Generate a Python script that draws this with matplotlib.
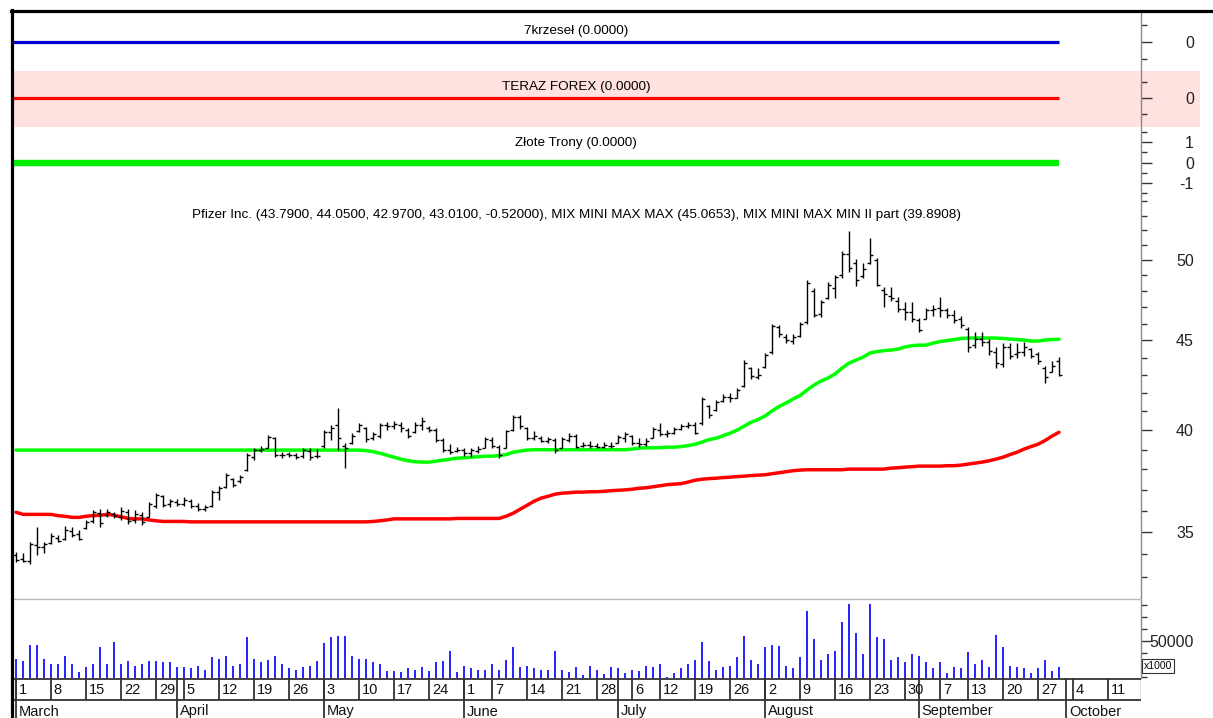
import numpy as np
import pandas as pd
import matplotlib
matplotlib.use("Agg")
import matplotlib.pyplot as plt
from matplotlib.patches import Rectangle
from matplotlib.lines import Line2D
from matplotlib import font_manager as fm

# ---------------- data ----------------
start_date = "2021-03-01"
end_axis_date = "2021-10-11"
holidays = ["2021-04-02", "2021-05-31", "2021-07-05", "2021-09-06"]

opens = [
33.95, 33.80, 33.70, 34.40, 34.30, 34.50, 34.75, 34.70, 35.05, 34.90,
35.20, 35.50, 35.90, 35.80, 35.85, 35.70, 35.95, 35.55, 35.80, 35.70,
36.20, 36.70, 36.30, 36.40, 36.30, 36.45, 36.20, 36.05, 36.20, 36.90,
37.15, 37.50, 37.40, 37.95, 38.60, 38.95, 39.10, 39.60, 38.70, 38.75,
38.70, 38.65, 38.90, 38.65, 39.20, 39.90, 40.30, 39.20, 39.35, 39.95,
40.10, 39.60, 39.70, 40.25, 40.20, 40.30, 40.00, 39.90, 40.30, 40.10,
40.00, 39.50, 39.00, 38.90, 38.95, 38.80, 38.90, 39.10, 39.50, 39.15,
39.10, 40.00, 40.70, 40.10, 39.60, 39.60, 39.45, 39.50, 39.10, 39.50,
39.70, 39.20, 39.25, 39.20, 39.15, 39.20, 39.35, 39.60, 39.70, 39.35,
39.30, 39.60, 40.00, 39.80, 39.85, 40.05, 40.20, 40.30, 40.40, 41.30,
41.05, 41.55, 41.80, 41.75, 42.40, 43.40, 42.90, 43.45, 44.30, 45.80,
45.20, 44.95, 45.25, 46.10, 48.00, 46.60, 47.60, 48.20, 49.00, 50.40,
49.80, 48.95, 49.80, 50.00, 48.10, 47.70, 47.40, 46.90, 46.70, 46.20,
46.30, 46.80, 46.95, 46.80, 46.50, 46.30, 45.70, 44.70, 45.10, 44.90,
44.30, 43.60, 44.60, 44.20, 44.30, 44.50, 44.20, 43.40, 43.20, 43.79]

highs = [
34.08, 34.04, 34.53, 35.22, 34.53, 34.94, 34.85, 35.26, 35.22, 35.08,
35.54, 36.01, 36.06, 36.06, 35.92, 36.16, 36.06, 36.01, 35.92, 36.40,
36.83, 36.73, 36.54, 36.54, 36.63, 36.54, 36.35, 36.25, 36.97, 37.17,
37.81, 37.56, 37.71, 38.81, 39.07, 39.17, 39.74, 39.64, 38.86, 38.86,
38.81, 39.07, 39.07, 39.02, 40.00, 40.26, 41.18, 39.33, 39.84, 40.37,
40.16, 39.90, 40.37, 40.42, 40.48, 40.42, 40.10, 40.42, 40.69, 40.21,
40.10, 39.58, 39.27, 39.12, 39.07, 39.07, 39.17, 39.64, 39.64, 39.22,
40.00, 40.80, 40.80, 40.16, 39.95, 39.69, 39.64, 39.58, 39.64, 39.84,
39.79, 39.38, 39.43, 39.33, 39.38, 39.38, 39.74, 39.90, 39.74, 39.58,
39.58, 40.16, 40.37, 40.00, 40.16, 40.32, 40.42, 40.42, 41.77, 41.34,
41.61, 41.94, 41.99, 42.27, 43.85, 43.45, 43.39, 44.26, 45.97, 45.91,
45.37, 45.37, 46.09, 48.71, 48.20, 47.44, 48.58, 49.03, 50.59, 51.94,
50.07, 49.80, 51.47, 50.13, 48.26, 48.26, 47.63, 47.32, 47.32, 46.33,
46.95, 47.13, 47.63, 46.95, 46.82, 46.46, 45.79, 45.49, 45.49, 45.08,
44.61, 44.84, 44.84, 44.84, 44.90, 44.55, 44.31, 43.51, 43.79, 44.05]

lows = [
33.64, 33.64, 33.55, 33.95, 34.04, 34.44, 34.53, 34.62, 34.76, 34.62,
35.13, 35.40, 35.22, 35.68, 35.64, 35.54, 35.36, 35.40, 35.31, 35.68,
36.11, 36.16, 36.16, 36.20, 36.20, 36.11, 35.97, 35.97, 36.16, 36.49,
37.07, 37.12, 37.32, 37.91, 38.46, 38.86, 39.07, 38.61, 38.56, 38.61,
38.51, 38.56, 38.46, 38.56, 39.07, 39.48, 38.97, 38.06, 39.27, 39.90,
39.38, 39.48, 39.58, 40.00, 40.05, 39.90, 39.58, 39.84, 40.00, 39.90,
39.38, 38.86, 38.76, 38.86, 38.66, 38.61, 38.81, 39.07, 39.07, 38.56,
39.07, 39.95, 40.05, 39.48, 39.48, 39.38, 39.33, 38.81, 39.07, 39.38,
39.07, 39.12, 39.07, 39.07, 39.07, 39.07, 39.33, 39.38, 39.22, 39.12,
39.17, 39.58, 39.69, 39.64, 39.79, 40.00, 40.10, 39.79, 40.26, 40.64,
41.02, 41.50, 41.50, 41.72, 42.33, 42.77, 42.77, 43.39, 44.20, 45.19,
44.84, 44.78, 45.19, 45.97, 46.39, 46.39, 47.51, 47.57, 48.84, 49.22,
48.33, 48.84, 49.74, 48.33, 47.01, 47.38, 46.70, 46.21, 46.09, 45.49,
46.27, 46.46, 46.39, 46.33, 46.03, 45.73, 44.31, 44.55, 44.66, 44.14,
43.39, 43.45, 43.91, 43.97, 44.08, 43.97, 43.62, 42.54, 43.17, 42.97]

closes = [
33.75, 33.70, 34.45, 34.30, 34.45, 34.80, 34.60, 35.10, 34.85, 34.70,
35.45, 35.95, 35.40, 35.95, 35.75, 36.00, 35.50, 35.85, 35.45, 36.30,
36.75, 36.25, 36.45, 36.30, 36.50, 36.20, 36.05, 36.15, 36.90, 37.10,
37.70, 37.25, 37.60, 38.70, 38.95, 39.05, 39.65, 38.70, 38.70, 38.70,
38.60, 38.95, 38.60, 38.65, 39.90, 40.10, 39.60, 39.10, 39.70, 40.25,
39.55, 39.80, 40.30, 40.20, 40.35, 40.10, 39.70, 40.30, 40.50, 40.00,
39.50, 38.95, 38.85, 38.95, 38.80, 38.95, 39.05, 39.55, 39.20, 38.70,
39.95, 40.70, 40.20, 39.60, 39.70, 39.45, 39.55, 39.00, 39.55, 39.70,
39.15, 39.25, 39.20, 39.15, 39.25, 39.16, 39.65, 39.80, 39.35, 39.30,
39.45, 40.05, 39.80, 39.85, 40.05, 40.20, 40.30, 39.85, 41.65, 40.80,
41.50, 41.80, 41.70, 42.15, 43.70, 42.95, 43.00, 44.15, 45.85, 45.40,
45.00, 45.20, 46.00, 48.50, 46.50, 47.30, 48.40, 48.90, 50.40, 49.50,
48.70, 49.40, 50.30, 48.40, 47.80, 47.60, 46.90, 46.70, 46.30, 45.60,
46.80, 46.90, 46.80, 46.50, 46.20, 45.90, 44.60, 45.10, 44.90, 44.40,
43.70, 44.60, 44.10, 44.30, 44.60, 44.10, 43.80, 42.90, 43.53, 43.01]

mix_max = [
38.97, 38.97, 38.97, 38.97, 38.97, 38.97, 38.97, 38.97, 38.97, 38.97,
38.97, 38.97, 38.97, 38.97, 38.97, 38.97, 38.97, 38.97, 38.97, 38.97,
38.97, 38.97, 38.97, 38.97, 38.97, 38.97, 38.97, 38.97, 38.97, 38.97,
38.97, 38.97, 38.97, 38.97, 38.97, 38.97, 38.97, 38.97, 38.97, 38.97,
38.97, 38.97, 38.97, 38.97, 38.97, 38.97, 38.97, 38.97, 38.97, 38.97,
38.94, 38.89, 38.81, 38.71, 38.61, 38.51, 38.43, 38.38, 38.36, 38.36,
38.41, 38.46, 38.51, 38.56, 38.58, 38.61, 38.63, 38.66, 38.66, 38.69,
38.74, 38.86, 38.92, 38.97, 38.99, 38.99, 38.99, 38.99, 38.99, 38.99,
38.99, 38.99, 38.99, 38.99, 38.99, 38.99, 38.99, 38.99, 39.02, 39.07,
39.09, 39.09, 39.09, 39.12, 39.12, 39.15, 39.20, 39.27, 39.38, 39.51,
39.58, 39.71, 39.84, 40.00, 40.21, 40.42, 40.56, 40.75, 41.02, 41.26,
41.45, 41.67, 41.86, 42.16, 42.44, 42.66, 42.83, 43.06, 43.39, 43.68,
43.85, 44.02, 44.26, 44.34, 44.40, 44.43, 44.49, 44.61, 44.69, 44.72,
44.72, 44.84, 44.93, 44.99, 45.05, 45.11, 45.14, 45.14, 45.14, 45.14,
45.14, 45.11, 45.08, 45.05, 45.02, 44.96, 44.96, 45.02, 45.05, 45.0653]

mix_min = [
35.92, 35.82, 35.82, 35.82, 35.82, 35.82, 35.76, 35.73, 35.68, 35.68,
35.73, 35.76, 35.78, 35.82, 35.78, 35.71, 35.63, 35.61, 35.61, 35.56,
35.52, 35.49, 35.49, 35.49, 35.49, 35.47, 35.47, 35.47, 35.47, 35.47,
35.47, 35.47, 35.47, 35.47, 35.47, 35.47, 35.47, 35.47, 35.47, 35.47,
35.47, 35.47, 35.47, 35.47, 35.47, 35.47, 35.47, 35.47, 35.47, 35.47,
35.47, 35.49, 35.52, 35.56, 35.61, 35.61, 35.61, 35.61, 35.61, 35.61,
35.61, 35.61, 35.61, 35.63, 35.63, 35.63, 35.63, 35.63, 35.63, 35.63,
35.73, 35.87, 36.06, 36.25, 36.44, 36.59, 36.68, 36.78, 36.83, 36.85,
36.88, 36.88, 36.90, 36.90, 36.92, 36.95, 36.97, 36.99, 37.02, 37.07,
37.09, 37.14, 37.19, 37.24, 37.27, 37.29, 37.37, 37.46, 37.51, 37.54,
37.56, 37.59, 37.61, 37.64, 37.66, 37.69, 37.71, 37.73, 37.78, 37.83,
37.88, 37.93, 37.96, 37.98, 37.98, 37.98, 37.98, 37.98, 37.98, 38.01,
38.01, 38.01, 38.01, 38.01, 38.01, 38.06, 38.08, 38.11, 38.13, 38.16,
38.16, 38.16, 38.16, 38.18, 38.18, 38.21, 38.26, 38.31, 38.36, 38.43,
38.51, 38.61, 38.74, 38.86, 39.02, 39.15, 39.27, 39.46, 39.69, 39.8908]

volume = [  # thousands of shares
35200, 33500, 46900, 46900, 35200, 30700, 30700, 37700, 30700, 23700,
28200, 30700, 44700, 30700, 49400, 30700, 33500, 29300, 30700, 33500,
33000, 32100, 32100, 28200, 28200, 27400, 28800, 26000, 36600, 35200,
37700, 29300, 31000, 53100, 35200, 32100, 34400, 37700, 31000, 27400,
26000, 28200, 29300, 33200, 48300, 53100, 54200, 54200, 37700, 35200,
35200, 32100, 30700, 24600, 24600, 23700, 27400, 26000, 28200, 24600,
32100, 33500, 41300, 23700, 29300, 27400, 25400, 26000, 30700, 26000,
34400, 44700, 28200, 29300, 27400, 26000, 26000, 41300, 26000, 23700,
28200, 21500, 29300, 26000, 22400, 28200, 27400, 23200, 26000, 24900,
29300, 28200, 31000, 19800, 23200, 27100, 31000, 34400, 49400, 33200,
26000, 28200, 29300, 36600, 53900, 34400, 31000, 44700, 46900, 46100,
29300, 27400, 36600, 75400, 52000, 34400, 39100, 41300, 65900, 81000,
56700, 39100, 81000, 53100, 52000, 34400, 36600, 32100, 39100, 37700,
32100, 27400, 32100, 23200, 28200, 27400, 40500, 31000, 34400, 28200,
55300, 44700, 29300, 28200, 27400, 23200, 27400, 34400, 24900, 28200]

krzesel_value = 0.0
teraz_forex_value = 0.0
zlote_trony_value = 0.0

ticker_name = "Pfizer Inc."
price_ticks = [35, 40, 45, 50]
volume_ticks = [50000]

# ---------------- calendar ----------------
days = pd.bdate_range(start_date, end_axis_date)
days = days[~days.isin(pd.to_datetime(holidays))]
n = len(closes)
idx = np.arange(n)
week_idx, week_lbl, month_idx, month_lbl = [], [], [], []
for i, d in enumerate(days):
    if i == 0 or d.weekday() < days[i - 1].weekday() or (d - days[i - 1]).days > 3:
        week_idx.append(i); week_lbl.append(str(d.day))
    if i == 0 or d.month != days[i - 1].month:
        month_idx.append(i); month_lbl.append(d.strftime("%B"))

# ---------------- fonts ----------------
def has_font(name):
    try:
        fm.findfont(name, fallback_to_default=False)
        return True
    except Exception:
        return False

narrow_ok = has_font("Liberation Sans Narrow")
NARROW = ["Liberation Sans Narrow", "Liberation Sans", "DejaVu Sans"] if narrow_ok else ["Liberation Sans", "DejaVu Sans"]
REG = ["Liberation Sans", "DejaVu Sans"]

# ---------------- figure ----------------
W, H = 1213, 718
fig = plt.figure(figsize=(W / 100, H / 100), dpi=100)
fig.patch.set_facecolor("white")

def box(x0, y0, x1, y1):
    return [x0 / W, 1 - y1 / H, (x1 - x0) / W, (y1 - y0) / H]

XL = (-0.72, 160.72)

def style(ax, lab_size=11.5):
    for s in ["left", "top", "bottom"]:
        ax.spines[s].set_visible(False)
    ax.spines["right"].set_color("#8a8a8a")
    ax.spines["right"].set_linewidth(1.0)
    ax.set_facecolor("none")
    ax.set_xlim(XL)
    ax.set_xticks([])
    ax.yaxis.tick_right()
    ax.tick_params(axis="y", which="major", length=8, width=1.0, color="#333333",
                   pad=30, labelsize=lab_size, labelcolor="#222222")
    ax.tick_params(axis="y", which="minor", length=4, width=1.0, color="#333333")

def right_align(ax):
    for t in ax.get_yticklabels():
        t.set_horizontalalignment("right")
        t.set_fontfamily(REG)

# pink band behind TERAZ FOREX
fig.add_artist(Rectangle((11 / W, 1 - 127 / H), (1200 - 11) / W, 56 / H,
                         transform=fig.transFigure, facecolor="#ffe1df",
                         edgecolor="none", zorder=-5))

# panel 1
ax1 = fig.add_axes(box(11, 12, 1141, 70))
style(ax1)
ax1.set_ylim(-1.65, 1.76)
ax1.hlines(krzesel_value, -0.4, n - 1, color="#0000d0", lw=2.3)
ax1.set_yticks([0]); ax1.set_yticklabels(["0"])
ax1.set_yticks([-1, 1], minor=True)
right_align(ax1)

# panel 2
ax2 = fig.add_axes(box(11, 71, 1141, 127))
style(ax2)
ax2.set_ylim(-1.81, 1.69)
ax2.hlines(teraz_forex_value, -0.4, n - 1, color="#ff0000", lw=2.3)
ax2.set_yticks([0]); ax2.set_yticklabels(["0"])
ax2.set_yticks([-1, 1], minor=True)
right_align(ax2)

# panel 3
ax3 = fig.add_axes(box(11, 128, 1141, 196))
style(ax3)
ax3.set_ylim(-1.63, 1.68)
ax3.hlines(zlote_trony_value, -0.4, n - 1, color="#00ee00", lw=4.6)
ax3.set_yticks([1, 0, -1]); ax3.set_yticklabels(["1", "0", "-1"])
ax3.set_yticks([-1.5, -0.5, 0.5, 1.5], minor=True)
right_align(ax3)

# main price panel
axm = fig.add_axes(box(11, 196, 1141, 598))
style(axm)
axm.set_yscale("log")
axm.set_ylim(32.10, 54.38)
axm.plot(idx, mix_min, color="#ff0000", lw=2.5, zorder=2, solid_capstyle="round")
axm.plot(idx, mix_max, color="#00ff00", lw=2.5, zorder=2, solid_capstyle="round")
axm.vlines(idx, lows, highs, color="black", lw=1.0, zorder=3)
axm.hlines(opens, idx - 0.45, idx, color="black", lw=1.0, zorder=3)
axm.hlines(closes, idx, idx + 0.45, color="black", lw=1.0, zorder=3)
axm.yaxis.set_major_locator(matplotlib.ticker.FixedLocator(price_ticks))
axm.yaxis.set_major_formatter(matplotlib.ticker.FixedFormatter([str(t) for t in price_ticks]))
axm.yaxis.set_minor_locator(matplotlib.ticker.FixedLocator(
    [v for v in range(33, 55) if v not in price_ticks]))
axm.yaxis.set_minor_formatter(matplotlib.ticker.NullFormatter())
right_align(axm)

# volume panel
axv = fig.add_axes(box(11, 598, 1141, 678))
style(axv)
axv.set_ylim(19000, 86000)
axv.vlines(idx, 0, volume, color="#2222ff", lw=1.4)
axv.set_yticks(volume_ticks); axv.set_yticklabels([str(v) for v in volume_ticks])
axv.set_yticks([20000, 30000, 40000, 60000, 70000, 80000], minor=True)
right_align(axv)
fig.add_artist(Line2D([11 / W, 1141 / W], [1 - 598.5 / H] * 2, transform=fig.transFigure,
                      color="#b8b8b8", lw=1.0))
fig.text(1158 / W, 1 - 666 / H, "x1000", ha="center", va="center", fontsize=7.5,
         family=REG, bbox=dict(boxstyle="square,pad=0.18", fc="white", ec="#333333", lw=0.8))

# date axis
axd = fig.add_axes(box(11, 678, 1141, 718))
axd.set_xlim(XL); axd.set_ylim(40, 0)
axd.axis("off")
axd.hlines([0.5, 22], XL[0], XL[1], color="#333333", lw=1.3)
axd.vlines(week_idx, 0, 22, color="#333333", lw=1.3)
axd.vlines(month_idx, 0, 40, color="#333333", lw=1.3)
axd.vlines([XL[1]], 0, 22, color="#555555", lw=1.0)
dsize = 11.5 if narrow_ok else 10.5
for i, lbl in zip(week_idx, week_lbl):
    axd.text(i + 0.4, 12, lbl, ha="left", va="center", fontsize=dsize, family=NARROW, color="#111111")
for i, lbl in zip(month_idx, month_lbl):
    axd.text(i + 0.4, 33.5, lbl, ha="left", va="center", fontsize=dsize, family=NARROW, color="#111111")

# titles
tsize = 10.5 if narrow_ok else 9.7
fig.text(576 / W, 1 - 31 / H, f"7krzeseł ({krzesel_value:.4f})", ha="center", va="center",
         fontsize=tsize, family=NARROW)
fig.text(576 / W, 1 - 87 / H, f"TERAZ FOREX ({teraz_forex_value:.4f})", ha="center", va="center",
         fontsize=tsize, family=NARROW)
fig.text(576 / W, 1 - 143 / H, f"Złote Trony ({zlote_trony_value:.4f})", ha="center", va="center",
         fontsize=tsize, family=NARROW)
chg = closes[-1] - closes[-2]
main_title = (f"{ticker_name} ({opens[-1]:.4f}, {highs[-1]:.4f}, {lows[-1]:.4f}, {closes[-1]:.4f}, "
              f"{chg:.5f}), MIX MINI MAX MAX ({mix_max[-1]:.4f}), "
              f"MIX MINI MAX MIN II part ({mix_min[-1]:.4f})")
fig.text(576 / W, 1 - 215 / H, main_title, ha="center", va="center", fontsize=tsize, family=NARROW)

# frame lines
fig.add_artist(Line2D([11 / W, 1.0], [1 - 10.5 / H] * 2, transform=fig.transFigure, color="black", lw=2.3))
fig.add_artist(Line2D([11.5 / W] * 2, [1 - 10 / H, 0.0], transform=fig.transFigure, color="black", lw=2.3))

fig.savefig("out.png", dpi=100)
